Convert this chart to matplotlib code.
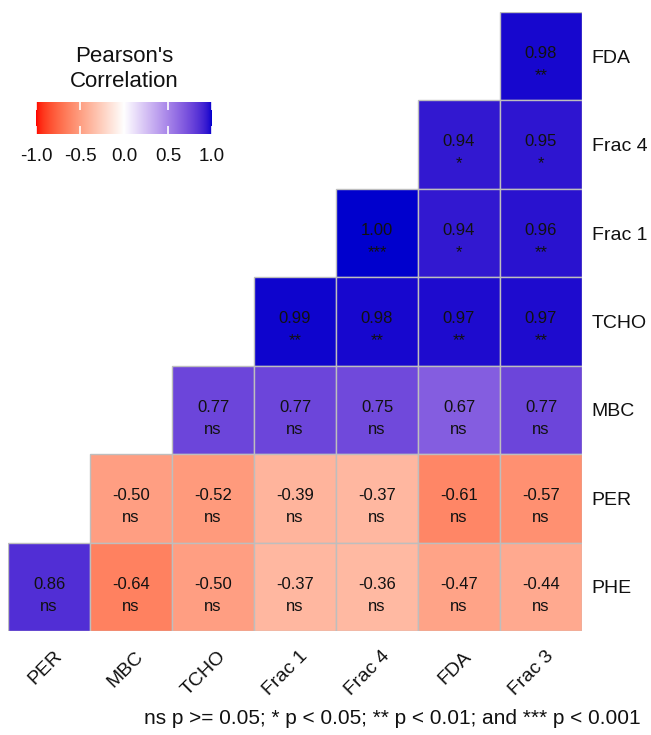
import matplotlib.pyplot as plt
import numpy as np
from matplotlib.colors import ListedColormap, Normalize
from matplotlib.patches import Rectangle

plt.rcParams['font.family'] = ['Liberation Sans', 'DejaVu Sans']

# ====data====
row_labels = ["FDA", "Frac 4", "Frac 1", "TCHO", "MBC", "PER", "PHE"]
col_labels = ["PER", "MBC", "TCHO", "Frac 1", "Frac 4", "FDA", "Frac 3"]

# Pearson r per (row, column); None = cell not shown
r_values = [
    [None, None, None, None, None, None, 0.98],
    [None, None, None, None, None, 0.94, 0.95],
    [None, None, None, None, 1.00, 0.94, 0.96],
    [None, None, None, 0.99, 0.98, 0.97, 0.97],
    [None, None, 0.77, 0.77, 0.75, 0.67, 0.77],
    [None, -0.50, -0.52, -0.39, -0.37, -0.61, -0.57],
    [0.86, -0.64, -0.50, -0.37, -0.36, -0.47, -0.44],
]

# significance codes for the same cells
sig_labels = [
    [None, None, None, None, None, None, "**"],
    [None, None, None, None, None, "*", "*"],
    [None, None, None, None, "***", "*", "**"],
    [None, None, None, "**", "**", "**", "**"],
    [None, None, "ns", "ns", "ns", "ns", "ns"],
    [None, "ns", "ns", "ns", "ns", "ns", "ns"],
    ["ns", "ns", "ns", "ns", "ns", "ns", "ns"],
]

legend_ticks = [-1.0, -0.5, 0.0, 0.5, 1.0]
caption = "ns p >= 0.05; * p < 0.05; ** p < 0.01; and *** p < 0.001"


# ====colour scale (red - white - blue, interpolated in CIELAB)====
def srgb_to_lab(rgb):
    rgb = np.asarray(rgb, dtype=float)
    lin = np.where(rgb <= 0.04045, rgb / 12.92, ((rgb + 0.055) / 1.055) ** 2.4)
    m = np.array([[0.4124564, 0.3575761, 0.1804375],
                  [0.2126729, 0.7151522, 0.0721750],
                  [0.0193339, 0.1191920, 0.9503041]])
    xyz = m @ lin
    xyz = xyz / np.array([0.95047, 1.0, 1.08883])
    f = np.where(xyz > 216 / 24389, np.cbrt(xyz), (24389 / 27 * xyz + 16) / 116)
    return np.array([116 * f[1] - 16, 500 * (f[0] - f[1]), 200 * (f[1] - f[2])])


def lab_to_srgb(lab):
    L, a, b = lab
    fy = (L + 16) / 116
    fx = fy + a / 500
    fz = fy - b / 200
    f = np.array([fx, fy, fz])
    xyz = np.where(f ** 3 > 216 / 24389, f ** 3, (116 * f - 16) / (24389 / 27))
    xyz = xyz * np.array([0.95047, 1.0, 1.08883])
    m = np.array([[3.2404542, -1.5371385, -0.4985314],
                  [-0.9692660, 1.8760108, 0.0415560],
                  [0.0556434, -0.2040259, 1.0572252]])
    lin = np.clip(m @ xyz, 0, 1)
    rgb = np.where(lin <= 0.0031308, 12.92 * lin, 1.055 * lin ** (1 / 2.4) - 0.055)
    return np.clip(rgb, 0, 1)


low = srgb_to_lab([1.0, 0.0, 0.0])
mid = srgb_to_lab([1.0, 1.0, 1.0])
high = srgb_to_lab([0.0, 0.0, 205 / 255])
ramp = []
for t in np.linspace(-1, 1, 256):
    if t < 0:
        lab = mid + (low - mid) * (-t)
    else:
        lab = mid + (high - mid) * t
    ramp.append(lab_to_srgb(lab))
cmap = ListedColormap(ramp)
norm = Normalize(-1, 1)

# ====figure====
W, H = 651, 735
fig = plt.figure(figsize=(W / 100, H / 100), dpi=100)

# heatmap area in pixels: x 8..582, y 12..631
ax = fig.add_axes([8 / W, 1 - 631 / H, 574 / W, 619 / H])
n_rows, n_cols = len(row_labels), len(col_labels)
for i in range(n_rows):
    for j in range(n_cols):
        v = r_values[i][j]
        if v is None:
            continue
        ax.add_patch(Rectangle((j, i), 1, 1, facecolor=cmap(norm(v)),
                               edgecolor='#BEBEBE', linewidth=1.0))
        ax.text(j + 0.5, i + 0.52, f"{v:.2f}", ha='center', va='baseline',
                fontsize=12, color='#111111')
        ax.text(j + 0.5, i + 0.77, sig_labels[i][j], ha='center', va='baseline',
                fontsize=12, color='#111111')

ax.set_xlim(0, n_cols)
ax.set_ylim(n_rows, 0)
for s in ax.spines.values():
    s.set_visible(False)
ax.set_xticks([])
ax.yaxis.tick_right()
ax.set_yticks(np.arange(n_rows) + 0.5)
ax.set_yticklabels(row_labels, fontsize=14, color='#111111')
ax.tick_params(axis='y', length=0, pad=7)

# rotated column labels under the grid
for j, lab in enumerate(col_labels):
    ax.text(j + 0.55, n_rows + 0.19, lab, rotation=45, rotation_mode='anchor',
            ha='right', va='top', fontsize=14, color='#111111', clip_on=False)

# ====legend colour bar====
fig.text(124 / W, 1 - 69 / H, "Pearson's\nCorrelation", ha='center', va='center',
         fontsize=16, linespacing=1.25, color='#111111')
cax = fig.add_axes([36 / W, 1 - 134 / H, 176 / W, 32 / H])
grad = np.linspace(-1, 1, 256).reshape(1, -1)
cax.imshow(grad, cmap=cmap, norm=norm, aspect='auto', extent=(-1, 1, 0, 1))
cax.set_xlim(-1, 1)
cax.set_ylim(0, 1)
for s in cax.spines.values():
    s.set_visible(False)
cax.set_yticks([])
cax.set_xticks(legend_ticks)
cax.set_xticklabels([f"{t:.1f}" for t in legend_ticks], fontsize=13.5, color='#111111')
cax.tick_params(axis='x', direction='in', length=6, width=1.2, color='white',
                top=True, bottom=True, pad=10)

# ====caption====
fig.text(641 / W, 1 - 718 / H, caption, ha='right', va='center', fontsize=15,
         color='#111111')

fig.savefig('out.png', dpi=100)
